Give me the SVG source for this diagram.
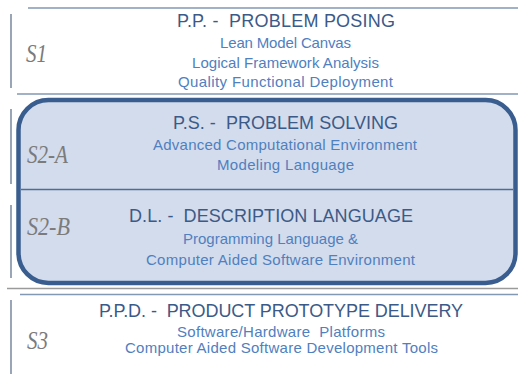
<svg xmlns="http://www.w3.org/2000/svg" width="518" height="374" viewBox="0 0 518 374">
  <style>
    text { white-space: pre; }
    .rule { stroke: #8399b3; stroke-width: 1.3; fill: none; }
    .grey-rule { stroke: #9a9a9a; stroke-width: 1.3; fill: none; }
    .side { stroke: #63768f; stroke-width: 1.3; fill: none; }
    .stage { font-family: "Liberation Serif", "Times New Roman", serif; font-style: italic; font-size: 25px; fill: #7b7b7b; }
    .title { font-family: "Liberation Sans", Arial, sans-serif; font-size: 18px; fill: #3b5a88; text-anchor: middle; }
    .item { font-family: "Liberation Sans", Arial, sans-serif; font-size: 15px; fill: #4f80c0; text-anchor: middle; }
  </style>

  <rect width="518" height="374" fill="#ffffff"/>

  <!-- separators and side bars -->
  <g id="connectors">
    <line class="rule" x1="28" y1="8" x2="518" y2="8"/>
    <line class="rule" x1="17" y1="94" x2="518" y2="94"/>
    <line class="grey-rule" x1="7" y1="288.5" x2="518" y2="288.5"/>
    <line class="rule" x1="20" y1="294.5" x2="518" y2="294.5" stroke-width="1.6"/>
    <line class="side" x1="11" y1="14" x2="11" y2="88"/>
    <line class="side" x1="11" y1="109" x2="11" y2="184"/>
    <line class="side" x1="11" y1="205" x2="11" y2="278"/>
    <line class="side" x1="11" y1="300" x2="11" y2="374"/>
  </g>

  <!-- S1: problem posing -->
  <g id="s1">
    <text class="stage" x="26" y="62" textLength="21" lengthAdjust="spacingAndGlyphs">S1</text>
    <text class="title" x="286" y="27" textLength="218" lengthAdjust="spacing">P.P. -  PROBLEM POSING</text>
    <text class="item" x="285.5" y="48" textLength="131" lengthAdjust="spacing">Lean Model Canvas</text>
    <text class="item" x="285.5" y="68" textLength="187" lengthAdjust="spacing">Logical Framework Analysis</text>
    <text class="item" x="285.5" y="87" textLength="215" lengthAdjust="spacing">Quality Functional Deployment</text>
  </g>

  <!-- S2: rounded block with problem solving and description language -->
  <g id="s2-block">
    <rect x="18.5" y="100" width="497" height="183" rx="30" ry="30" fill="#d3dcec" stroke="#3a5d8f" stroke-width="4.5"/>
    <line x1="21" y1="189.5" x2="513" y2="189.5" stroke="#4d6c98" stroke-width="1.5"/>
  </g>

  <g id="s2-a">
    <text class="stage" x="27" y="163" textLength="41" lengthAdjust="spacingAndGlyphs">S2-A</text>
    <text class="title" x="285.5" y="129" textLength="225" lengthAdjust="spacing">P.S. -  PROBLEM SOLVING</text>
    <text class="item" x="285" y="150" textLength="264" lengthAdjust="spacing">Advanced Computational Environment</text>
    <text class="item" x="285.5" y="170" textLength="137" lengthAdjust="spacing">Modeling Language</text>
  </g>

  <g id="s2-b">
    <text class="stage" x="27" y="235" textLength="43" lengthAdjust="spacingAndGlyphs">S2-B</text>
    <text class="title" x="271" y="222" textLength="284" lengthAdjust="spacing">D.L. -  DESCRIPTION LANGUAGE</text>
    <text class="item" x="270.5" y="244" textLength="175" lengthAdjust="spacing">Programming Language &amp;</text>
    <text class="item" x="280.5" y="265" textLength="269" lengthAdjust="spacing">Computer Aided Software Environment</text>
  </g>

  <!-- S3: product prototype delivery -->
  <g id="s3">
    <text class="stage" x="27" y="349" textLength="21" lengthAdjust="spacingAndGlyphs">S3</text>
    <text class="title" x="281" y="317" textLength="364" lengthAdjust="spacing">P.P.D. -  PRODUCT PROTOTYPE DELIVERY</text>
    <text class="item" x="281" y="337" textLength="208" lengthAdjust="spacing">Software/Hardware  Platforms</text>
    <text class="item" x="281.5" y="353" textLength="313" lengthAdjust="spacing">Computer Aided Software Development Tools</text>
  </g>
</svg>
